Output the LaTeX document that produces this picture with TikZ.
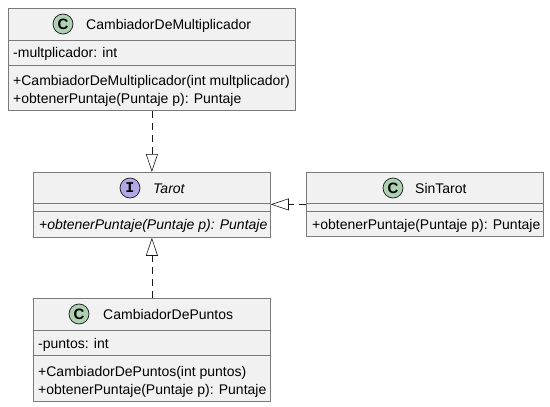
\documentclass[tikz,border=0pt]{standalone}
\usepackage{fontspec}
\setmainfont{Liberation Sans}
\newfontfamily\spotfont{Liberation Mono}
\usetikzlibrary{arrows.meta}
\definecolor{boxfill}{HTML}{F1F1F1}
\definecolor{boxline}{HTML}{7A7A7A}
\definecolor{arrowline}{HTML}{181818}
\definecolor{classspot}{HTML}{ADD1B2}
\definecolor{ifacespot}{HTML}{B4A7E5}

\begin{document}
\begin{tikzpicture}[x=1pt,y=-1pt,
    classbox/.style={rectangle,draw=boxline,fill=boxfill,line width=0.8pt,
                     anchor=north west,inner sep=0pt},
    spot/.style={circle,draw=arrowline,fill=#1,line width=0.7pt,
                 minimum size=20pt,inner sep=0pt,font=\fontsize{15}{15}\bfseries},
    title/.style={anchor=base west,inner sep=0pt,font=\fontsize{14}{16}\selectfont},
    member/.style={anchor=base west,inner sep=0pt,font=\fontsize{14}{16}\selectfont},
    divider/.style={draw=boxline,line width=0.8pt},
    realize/.style={draw=arrowline,line width=0.6pt,dash pattern=on 7pt off 5pt,
                    -{Triangle[open,length=18pt,width=12pt]}}]
    \useasboundingbox (0,0) rectangle (550,407);

    % CambiadorDeMultiplicador
    \node[classbox,minimum width=287pt,minimum height=102pt] (mult) at (8,8) {};
    \draw[divider] (8,40) -- (295,40);
    \draw[divider] (8,65) -- (295,65);
    \node[spot=classspot] (multspot) at (63,24) {C};
    \node[title] (multname) at (86,29) {CambiadorDeMultiplicador};
    \node[member] (multattr) at (13,57) {-multplicador: int};
    \node[member] (multctor) at (13,85.5) {+CambiadorDeMultiplicador(int multplicador)};
    \node[member] (multop) at (13,103.5) {+obtenerPuntaje(Puntaje p): Puntaje};

    % Tarot interface
    \node[classbox,minimum width=237pt,minimum height=65pt] (tarot) at (33,172) {};
    \draw[divider] (33,203) -- (270,203);
    \draw[divider] (33,211) -- (270,211);
    \node[spot=ifacespot,font=\fontsize{15}{15}\spotfont\bfseries] (tarotspot) at (130,188) {I};
    \node[title,font=\fontsize{14}{16}\itshape] (tarotname) at (153,193) {Tarot};
    \node[member,font=\fontsize{14}{16}\itshape] (tarotop) at (39,229) {+obtenerPuntaje(Puntaje p): Puntaje};

    % SinTarot
    \node[classbox,minimum width=237pt,minimum height=64pt] (sintarot) at (306,172) {};
    \draw[divider] (306,203) -- (543,203);
    \draw[divider] (306,211) -- (543,211);
    \node[spot=classspot] (sinspot) at (393,188) {C};
    \node[title] (sinname) at (415,193) {SinTarot};
    \node[member] (sinop) at (312,229) {+obtenerPuntaje(Puntaje p): Puntaje};

    % CambiadorDePuntos
    \node[classbox,minimum width=237pt,minimum height=103pt] (puntos) at (33,298) {};
    \draw[divider] (33,330) -- (270,330);
    \draw[divider] (33,355) -- (270,355);
    \node[spot=classspot] (puntosspot) at (79,314) {C};
    \node[title] (puntosname) at (103,319) {CambiadorDePuntos};
    \node[member] (puntosattr) at (38,348) {-puntos: int};
    \node[member] (puntosctor) at (38,376) {+CambiadorDePuntos(int puntos)};
    \node[member] (puntosop) at (38,394) {+obtenerPuntaje(Puntaje p): Puntaje};

    % realizations
    \draw[realize] (mult.south) -- (tarot.north);
    \draw[realize] (sintarot.west) -- (sintarot.west -| tarot.east);
    \draw[realize] (puntos.north) -- (tarot.south);
\end{tikzpicture}
\end{document}
